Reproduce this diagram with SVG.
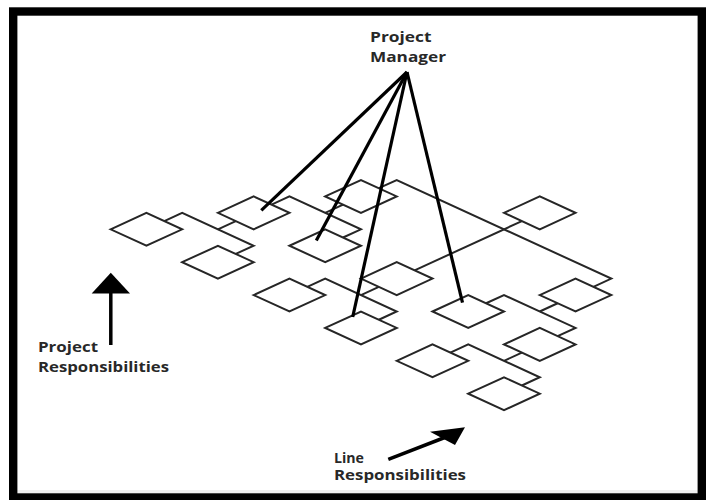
<svg xmlns="http://www.w3.org/2000/svg" xmlns:xlink="http://www.w3.org/1999/xlink" width="706" height="500" viewBox="0 0 706 500">
  <style>
    .box { fill: #ffffff; stroke: #262626; stroke-width: 2; stroke-linejoin: miter; }
    .link { fill: none; stroke: #262626; stroke-width: 2; stroke-linejoin: miter; }
    .pm { fill: none; stroke: #000000; stroke-width: 3.2; stroke-linecap: butt; }
    .label { font-family: "Open Sans", "Liberation Sans", Arial, sans-serif; font-weight: bold; font-size: 13.5px; fill: #282828; }
    .arrow { fill: none; stroke: #000000; stroke-width: 3.5; }
    .head { fill: #000000; stroke: none; }
  </style>
  <defs>
    <!-- isometric unit box: half-width 35.76, half-height 16.44 -->
    <path id="box" d="M-35.76,0 L0,-16.44 L35.76,0 L0,16.44 Z"/>
  </defs>

  <!-- page -->
  <rect x="0" y="0" width="706" height="500" fill="#ffffff"/>
  <rect x="17" y="490" width="681" height="5" fill="#efefef"/>
  <!-- frame -->
  <rect x="13.2" y="11.5" width="688.6" height="486" fill="none" stroke="#000000" stroke-width="8.4"/>

  <!-- reporting lines between boxes -->
  <g id="connectors">
    <polyline class="link" points="164.28,221.08 182.16,212.86 253.68,245.74 235.8,253.96"/>
    <line class="link" x1="235.8" y1="221.08" x2="217.92" y2="229.3"/>

    <polyline class="link" points="271.56,204.64 289.44,196.42 360.96,229.3 343.08,237.52"/>
    <line class="link" x1="343.08" y1="204.64" x2="325.2" y2="212.86"/>

    <polyline class="link" points="378.84,188.2 396.72,179.98 611.28,278.62 593.4,286.84"/>
    <line class="link" x1="521.88" y1="221.08" x2="414.6" y2="270.4"/>

    <polyline class="link" points="307.32,286.84 325.2,278.62 396.72,311.5 378.84,319.72"/>
    <line class="link" x1="378.84" y1="286.84" x2="360.96" y2="295.06"/>

    <polyline class="link" points="486.12,303.28 504,295.06 575.52,327.94 557.64,336.16"/>
    <line class="link" x1="557.64" y1="303.28" x2="539.76" y2="311.5"/>

    <polyline class="link" points="450.36,352.6 468.24,344.38 539.76,377.26 521.88,385.48"/>
    <line class="link" x1="521.88" y1="352.6" x2="504" y2="360.82"/>
  </g>

  <!-- organisation boxes -->
  <g id="box1" transform="translate(146.4,229.3)"><use xlink:href="#box" class="box"/></g>
  <g id="box2" transform="translate(253.68,212.86)"><use xlink:href="#box" class="box"/></g>
  <g id="box3" transform="translate(217.92,262.18)"><use xlink:href="#box" class="box"/></g>
  <g id="box4" transform="translate(360.96,196.42)"><use xlink:href="#box" class="box"/></g>
  <g id="box5" transform="translate(325.2,245.74)"><use xlink:href="#box" class="box"/></g>
  <g id="box6" transform="translate(539.76,212.86)"><use xlink:href="#box" class="box"/></g>
  <g id="box7" transform="translate(396.72,278.62)"><use xlink:href="#box" class="box"/></g>
  <g id="box8" transform="translate(289.44,295.06)"><use xlink:href="#box" class="box"/></g>
  <g id="box9" transform="translate(360.96,327.94)"><use xlink:href="#box" class="box"/></g>
  <g id="box10" transform="translate(468.24,311.5)"><use xlink:href="#box" class="box"/></g>
  <g id="box11" transform="translate(575.52,295.06)"><use xlink:href="#box" class="box"/></g>
  <g id="box12" transform="translate(539.76,344.38)"><use xlink:href="#box" class="box"/></g>
  <g id="box13" transform="translate(432.48,360.82)"><use xlink:href="#box" class="box"/></g>
  <g id="box14" transform="translate(504,393.7)"><use xlink:href="#box" class="box"/></g>

  <!-- project manager and its direct lines -->
  <g id="project-manager">
    <text class="label" x="370" y="41.7" textLength="61.5" lengthAdjust="spacingAndGlyphs">Project</text>
    <text class="label" x="370" y="62" textLength="76" lengthAdjust="spacingAndGlyphs">Manager</text>
  </g>
  <g id="pm-lines">
    <line class="pm" x1="407" y1="72" x2="261.3" y2="210.3"/>
    <line class="pm" x1="407" y1="72" x2="316.3" y2="240.5"/>
    <line class="pm" x1="407" y1="72" x2="352.7" y2="317"/>
    <line class="pm" x1="407" y1="72" x2="462.5" y2="302.7"/>
  </g>

  <!-- axis arrows -->
  <g id="project-axis">
    <line class="arrow" x1="110.8" y1="345" x2="110.8" y2="290"/>
    <polygon class="head" points="110.8,272.7 91.7,293.5 130,293.5"/>
    <text class="label" x="38" y="352" textLength="60" lengthAdjust="spacingAndGlyphs">Project</text>
    <text class="label" x="38" y="371.5" textLength="131" lengthAdjust="spacingAndGlyphs">Responsibilities</text>
  </g>
  <g id="line-axis">
    <line class="arrow" x1="388.3" y1="459.3" x2="446" y2="437"/>
    <polygon class="head" points="465,427.3 430,431.7 455,445"/>
    <text class="label" x="334" y="463" textLength="30" lengthAdjust="spacingAndGlyphs">Line</text>
    <text class="label" x="334" y="480" textLength="132" lengthAdjust="spacingAndGlyphs">Responsibilities</text>
  </g>
</svg>
